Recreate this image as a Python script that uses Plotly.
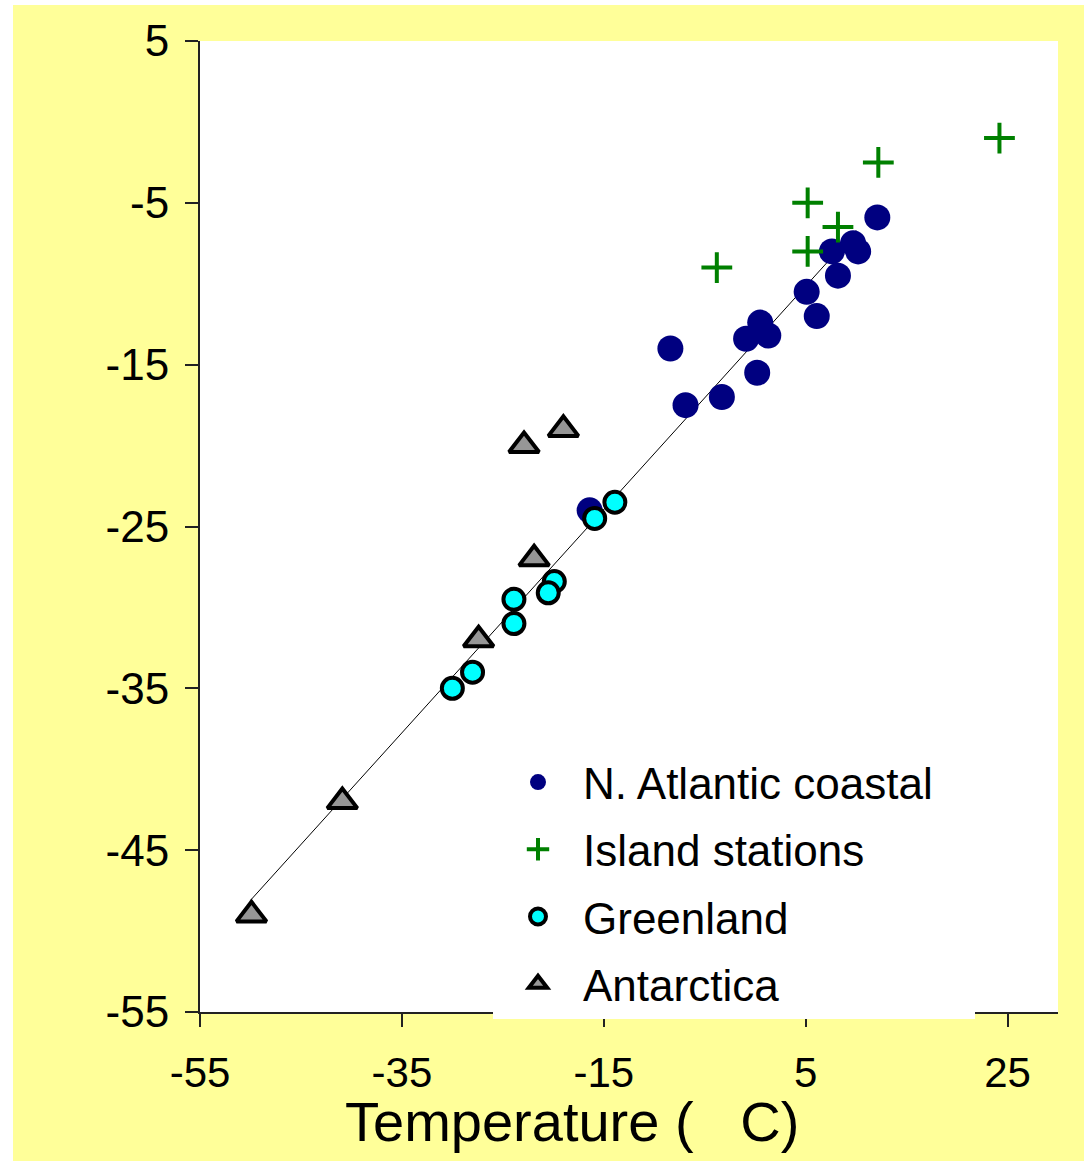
import plotly.graph_objects as go

# ---- data ----
atl_t = [12.1, 7.6, 9.7, 10.2, 8.2, 5.1, 6.1, 0.5, -0.9, 1.3, 0.2, -8.4, -6.9, -3.3, -16.4]
atl_d = [-5.9, -8.0, -7.5, -8.0, -9.5, -10.5, -12.0, -12.4, -13.4, -13.2, -15.5, -14.0, -17.5, -17.0, -24.0]

isl_t = [24.2, 12.2, 5.2, 8.2, 5.2, -3.8]
isl_d = [-1.0, -2.5, -5.0, -6.5, -8.0, -9.0]

grl_t = [-13.9, -15.9, -19.9, -20.5, -23.9, -23.9, -28.0, -30.0]
grl_d = [-23.5, -24.5, -28.4, -29.1, -29.5, -31.0, -34.0, -35.0]

ant_t = [-19.0, -22.9, -21.9, -27.4, -40.9, -49.9]
ant_d = [-19.0, -20.0, -27.0, -32.0, -42.0, -49.0]

fit_t = [-50.0, 10.0]
fit_d = [-48.1, -6.7]

x_ticks = [-55, -35, -15, 5, 25]
y_ticks = [5, -5, -15, -25, -35, -45, -55]

series_names = ["N. Atlantic coastal", "Island stations", "Greenland", "Antarctica"]

FONT = "Liberation Sans, Arial, sans-serif"
YELLOW = "#FFFF99"
PAD = "\u00a0\u00a0\u00a0"  # keeps the white legend box as wide as the reference's

fig = go.Figure()

fig.add_trace(go.Scatter(x=fit_t, y=fit_d, mode="lines",
                         line=dict(color="black", width=1), showlegend=False,
                         hoverinfo="skip"))

fig.add_trace(go.Scatter(x=atl_t, y=atl_d, mode="markers", name=series_names[0] + PAD,
                         legendgroup="a",
                         marker=dict(symbol="circle", size=26, color="#000080",
                                     line=dict(width=0))))
fig.add_trace(go.Scatter(x=isl_t, y=isl_d, mode="markers", name=series_names[1],
                         legendgroup="b",
                         marker=dict(symbol="cross-thin", size=22, color="#008000",
                                     line=dict(width=4, color="#008000"))))
fig.add_trace(go.Scatter(x=grl_t, y=grl_d, mode="markers", name=series_names[2],
                         legendgroup="c",
                         marker=dict(symbol="circle", size=21, color="#00FFFF",
                                     line=dict(width=4, color="black"))))
fig.add_trace(go.Scatter(x=ant_t, y=ant_d, mode="markers", name=series_names[3],
                         legendgroup="d",
                         marker=dict(symbol="triangle-up", size=26, color="#969696",
                                     line=dict(width=4, color="black"))))

W, H = 1084, 1161
ML, MR, MT, MB = 200, 26, 41, 149
PW, PH = W - ML - MR, H - MT - MB

def px_x(p):
    return (p - ML) / PW

def px_y(p):
    return (H - MB - p) / PH

fig.update_layout(
    width=W, height=H, autosize=False,
    margin=dict(l=ML, r=MR, t=MT, b=MB, pad=0),
    paper_bgcolor=YELLOW, plot_bgcolor="white",
    font=dict(family=FONT, color="black"),
    showlegend=True,
    legend=dict(x=px_x(493), xanchor="left", y=px_y(1019), yanchor="bottom",
                bgcolor="white", borderwidth=0,
                font=dict(size=44, family=FONT, color="black"),
                tracegroupgap=7, traceorder="grouped",
                itemwidth=80),
    shapes=[
        dict(type="rect", xref="paper", yref="paper", layer="below",
             x0=px_x(-5), x1=px_x(13), y0=px_y(H + 5), y1=px_y(-5),
             fillcolor="white", line=dict(width=0)),
        dict(type="rect", xref="paper", yref="paper", layer="below",
             x0=px_x(-5), x1=px_x(W + 5), y0=px_y(5), y1=px_y(-5),
             fillcolor="white", line=dict(width=0)),
    ],
    annotations=[
        dict(text="Temperature (   C)", xref="paper", yref="paper",
             x=px_x(343), xanchor="left", y=px_y(1088), yanchor="top",
             showarrow=False, font=dict(size=56, family=FONT, color="black")),
    ],
)

fig.update_xaxes(range=[-55, 30], tickvals=x_ticks, ticktext=[str(v) for v in x_ticks],
                 showgrid=False, zeroline=False, showline=True, linecolor="#222222",
                 linewidth=2, ticks="outside", ticklen=13, tickwidth=2, tickcolor="#222222",
                 tickfont=dict(size=42, family=FONT, color="black"),
                 ticklabelstandoff=10)
fig.update_yaxes(range=[-55, 5], tickvals=y_ticks, ticktext=[str(v) for v in y_ticks],
                 showgrid=False, zeroline=False, showline=True, linecolor="#222222",
                 linewidth=2, ticks="outside", ticklen=13, tickwidth=2, tickcolor="#222222",
                 tickfont=dict(size=44, family=FONT, color="black"),
                 ticklabelstandoff=7)

fig.write_html("out.html")
